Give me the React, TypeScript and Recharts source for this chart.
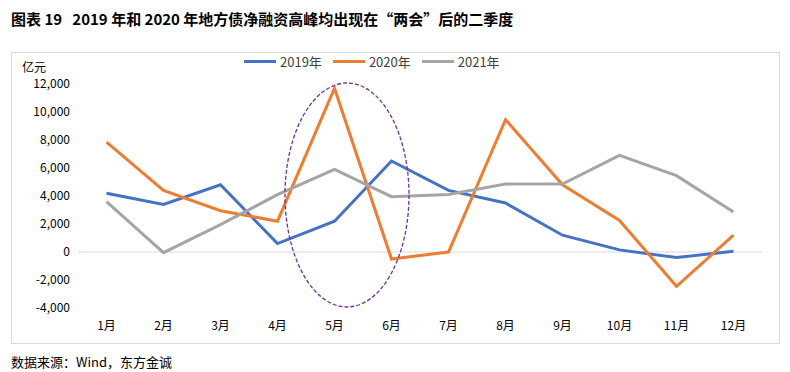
import React from 'react'
import {
  LineChart,
  Line,
  XAxis,
  YAxis,
  ReferenceLine,
} from 'recharts'

const months = ['1月', '2月', '3月', '4月', '5月', '6月', '7月', '8月', '9月', '10月', '11月', '12月']
const y2019 = [4200, 3400, 4800, 600, 2200, 6500, 4400, 3500, 1200, 150, -400, 50]
const y2020 = [7850, 4400, 2950, 2200, 11700, -500, 0, 9450, 4800, 2250, -2450, 1200]
const y2021 = [3600, -50, 1950, 4100, 5900, 3950, 4100, 4850, 4850, 6900, 5450, 2850]
const yTicks = [-4000, -2000, 0, 2000, 4000, 6000, 8000, 10000, 12000]

const seriesList = [
  { key: 'y2019', name: '2019年', color: '#4472C4' },
  { key: 'y2020', name: '2020年', color: '#ED7D31' },
  { key: 'y2021', name: '2021年', color: '#A5A5A5' },
]

const data = months.map((m, i) => ({
  month: m,
  y2019: y2019[i],
  y2020: y2020[i],
  y2021: y2021[i],
}))

const font = '"Noto Sans CJK SC", "Noto Sans", sans-serif'

function LegendBox() {
  return (
    <div style={{ display: 'flex', alignItems: 'center', fontSize: 13, color: '#404040', fontFamily: font }}>
      {seriesList.map((s) => (
        <div key={s.key} style={{ display: 'flex', alignItems: 'center', marginRight: 11 }}>
          <span style={{ display: 'inline-block', width: 32, height: 3, background: s.color, marginRight: 4 }} />
          <span>{s.name}</span>
        </div>
      ))}
    </div>
  )
}

export default function App() {
  return (
    <div style={{ position: 'absolute', left: 0, top: 0, width: 790, height: 372, background: '#fff', fontFamily: font, color: '#000' }}>
      <div style={{ position: 'absolute', left: 11, top: 8, fontSize: 15, fontWeight: 700, whiteSpace: 'pre', lineHeight: '22px' }}>
        {'图表 19   2019 年和 2020 年地方债净融资高峰均出现在“两会”后的二季度'}
      </div>
      <div style={{ position: 'absolute', left: 11, top: 52, width: 767, height: 290, border: '1px solid #d9d9d9' }} />
      <div style={{ position: 'absolute', left: 22, top: 58, fontSize: 12, color: '#000' }}>亿元</div>
      <div style={{ position: 'absolute', left: 244, top: 52 }}>
        <LegendBox />
      </div>
      <div style={{ position: 'absolute', left: 0, top: 0 }}>
        <LineChart
          width={790}
          height={372}
          data={data}
          margin={{ top: 84, right: 28, left: 18, bottom: 34 }}
        >
          <XAxis
            dataKey="month"
            axisLine={false}
            tickLine={false}
            height={30}
            tickMargin={7}
            interval={0}
            padding={{ left: 28.5, right: 28.5 }}
            tick={{ fill: '#000', fontSize: 12, fontFamily: font }}
          />
          <YAxis
            type="number"
            domain={[-4000, 12000]}
            ticks={yTicks}
            width={60}
            axisLine={false}
            tickLine={false}
            tickFormatter={(v) => Number(v).toLocaleString('en-US')}
            tick={{ fill: '#000', fontSize: 12, fontFamily: font }}
          />
          <ReferenceLine y={0} stroke="#d9d9d9" strokeWidth={1} />
          {seriesList.map((s) => (
            <Line
              key={s.key}
              type="linear"
              dataKey={s.key}
              name={s.name}
              stroke={s.color}
              strokeWidth={3}
              dot={false}
              activeDot={false}
              isAnimationActive={false}
            />
          ))}
        </LineChart>
      </div>
      <svg width={790} height={372} style={{ position: 'absolute', left: 0, top: 0, pointerEvents: 'none' }}>
        <ellipse cx={347} cy={195} rx={62} ry={112} fill="none" stroke="#7030A0" strokeWidth={1.3} strokeDasharray="4 2" />
      </svg>
      <div style={{ position: 'absolute', left: 11, top: 352, fontSize: 13 }}>数据来源：Wind，东方金诚</div>
    </div>
  )
}
